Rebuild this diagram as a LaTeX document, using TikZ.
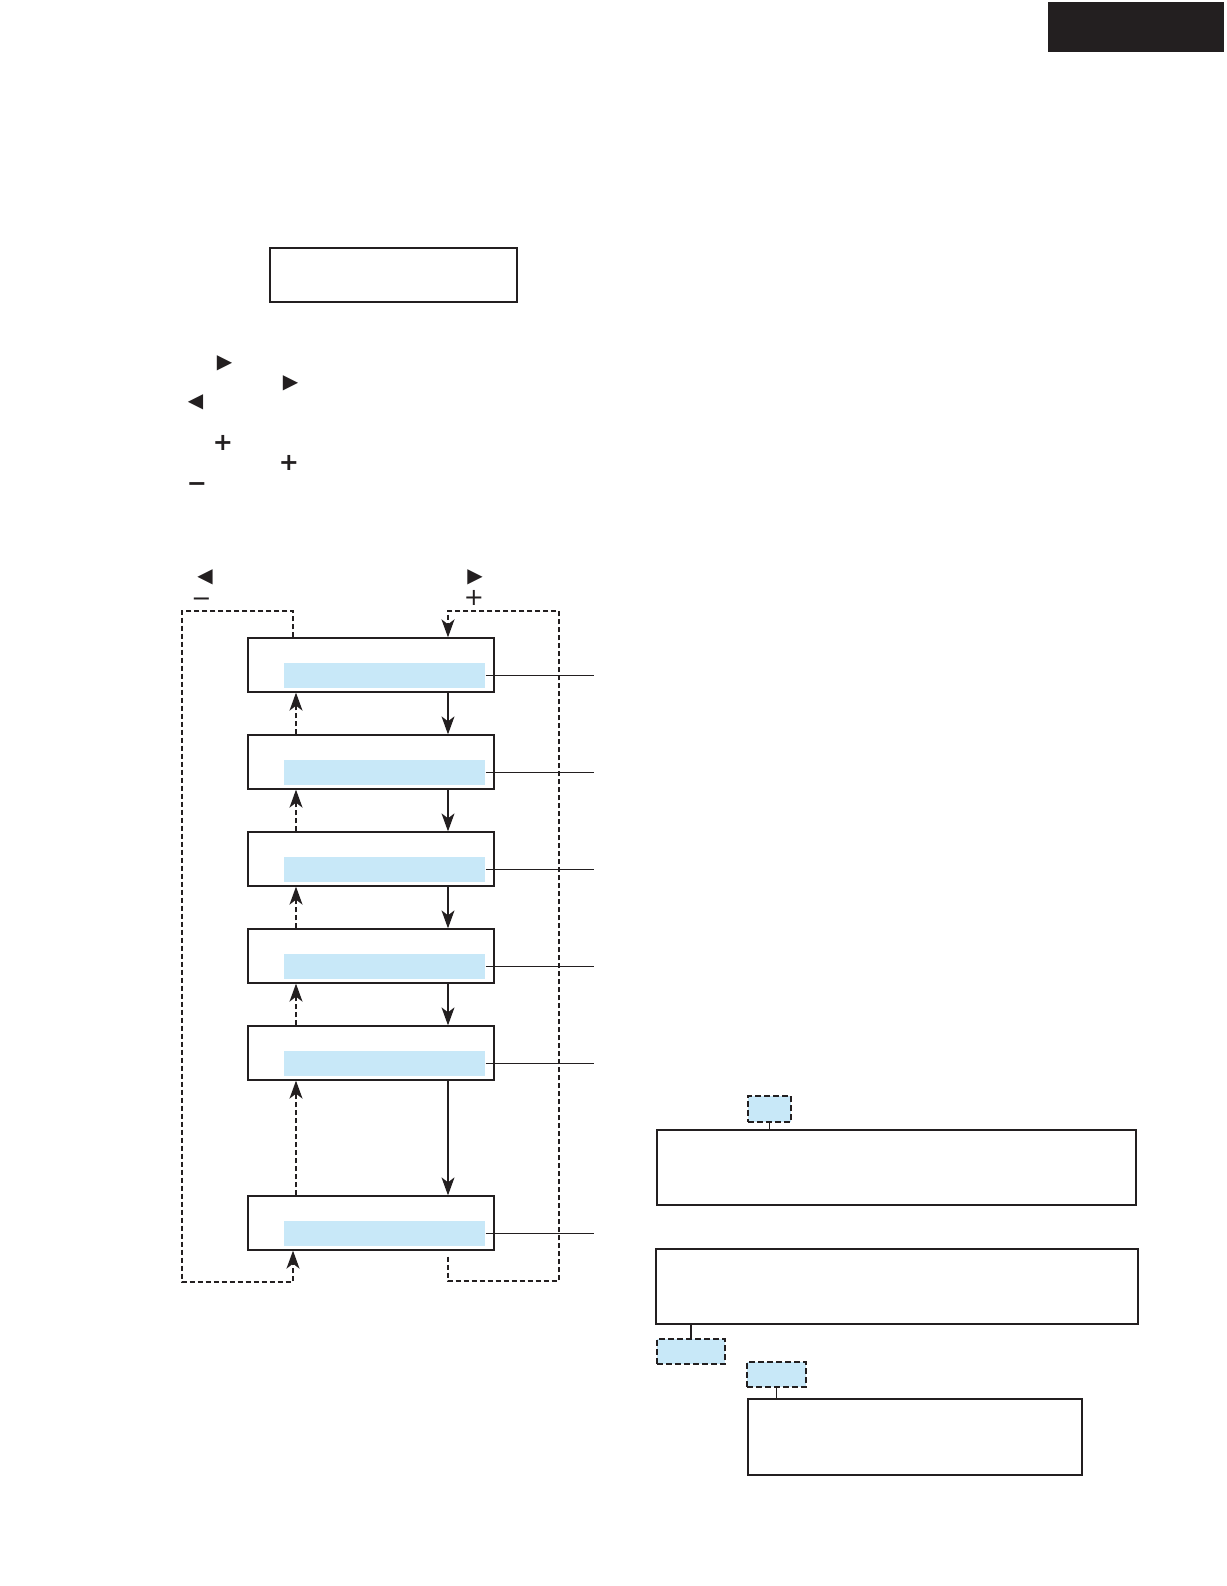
\documentclass[tikz,border=0pt]{standalone}
\usepackage{fontspec}
\newfontfamily\symfont{DejaVu Sans}
\usetikzlibrary{arrows.meta}

\definecolor{lcdblue}{RGB}{200,232,248}
\definecolor{ink}{RGB}{35,31,32}

\begin{document}
\begin{tikzpicture}[x=1pt, y=-1pt, line width=1.3pt, draw=ink,
    disp/.style={draw=ink, rectangle, minimum width=246pt, minimum height=54pt, inner sep=0pt},
    bar/.style={fill=lcdblue, rectangle, minimum width=201pt, minimum height=25pt, inner sep=0pt},
    tag/.style={fill=lcdblue, draw=ink, dashed, dash pattern=on 6pt off 3pt, rectangle, inner sep=0pt},
    info/.style={draw=ink, rectangle, inner sep=0pt},
    key/.style={inner sep=0pt, text=ink, font=\symfont\fontsize{20}{20}\selectfont},
    sign/.style={inner sep=0pt, text=ink, font=\symfont\bfseries\fontsize{24}{24}\selectfont},
    n/.style={-{Stealth[length=18pt, width=13pt, inset=5pt]}, line width=1.3pt},
    d/.style={-{Stealth[length=18pt, width=13pt, inset=5pt]}, line width=1.3pt, dash pattern=on 5pt off 3pt}]
    \useasboundingbox (0,0) rectangle (1226,1586);
    % header
    \node[fill=ink, minimum width=176pt, minimum height=50pt, inner sep=0pt] (tab) at (1136,27) {};
    \node[info, minimum width=247pt, minimum height=54pt] (top) at (393.5,275) {};
    % keys
    \node[key] (r1) at (224.5,363) {▶};
    \node[key] (r2) at (290.5,383) {▶};
    \node[key] (l1) at (195.5,402) {◀};
    \node[sign] (p1) at (223,442.5) {+};
    \node[sign] (p2) at (289,463) {+};
    \node[sign] (m1) at (197,487) {−};
    \node[key] (l2) at (205,577) {◀};
    \node[sign, font=\symfont\fontsize{24}{24}\selectfont] (m2) at (201.5,602) {−};
    \node[key] (r3) at (475,577) {▶};
    \node[sign, font=\symfont\fontsize{24}{24}\selectfont] (p3) at (474,598) {+};
    % displays
    \node[disp] (s1) at (371,665) {};
    \node[disp] (s2) at (371,762) {};
    \node[disp] (s3) at (371,859) {};
    \node[disp] (s4) at (371,956) {};
    \node[disp] (s5) at (371,1053) {};
    \node[disp] (s6) at (371,1223) {};
    \node[bar] (b1) at (384.5,675.5) {};
    \node[bar] (b2) at (384.5,772.5) {};
    \node[bar] (b3) at (384.5,869.5) {};
    \node[bar] (b4) at (384.5,966.5) {};
    \node[bar] (b5) at (384.5,1063.5) {};
    \node[bar] (b6) at (384.5,1233.5) {};
    % helper columns
    \coordinate (ux) at (296,0);
    \coordinate (dx) at (448,0);
    \coordinate (lx) at (293,0);
    \coordinate (ex) at (594,0);
    \coordinate (ltop) at (182,611);
    \coordinate (lbot) at (182,1282);
    \coordinate (rtop) at (559,611);
    \coordinate (rbot) at (559,1281);
    % steps
    \draw[d] (s2.north -| ux) -- (s1.south -| ux);
    \draw[d] (s3.north -| ux) -- (s2.south -| ux);
    \draw[d] (s4.north -| ux) -- (s3.south -| ux);
    \draw[d] (s5.north -| ux) -- (s4.south -| ux);
    \draw[d] (s6.north -| ux) -- (s5.south -| ux);
    \draw[n] (s1.south -| dx) -- (s2.north -| dx);
    \draw[n] (s2.south -| dx) -- (s3.north -| dx);
    \draw[n] (s3.south -| dx) -- (s4.north -| dx);
    \draw[n] (s4.south -| dx) -- (s5.north -| dx);
    \draw[n] (s5.south -| dx) -- (s6.north -| dx);
    % wrap around
    \draw[d, line width=1.2pt] (s1.north -| lx) |- (ltop) -- (lbot) -| (s6.south -| lx);
    \draw[d, line width=1.8pt, shorten <=6pt] (s6.south -| dx) |- (rbot) -- (rtop) -| (s1.north -| dx);
    % leaders
    \draw (b1.east) -- (b1.east -| ex);
    \draw (b2.east) -- (b2.east -| ex);
    \draw (b3.east) -- (b3.east -| ex);
    \draw (b4.east) -- (b4.east -| ex);
    \draw (b5.east) -- (b5.east -| ex);
    \draw (b6.east) -- (b6.east -| ex);
    % notes
    \node[info, minimum width=479pt, minimum height=75pt] (na) at (896.5,1167.5) {};
    \node[info, minimum width=482pt, minimum height=75pt] (nb) at (897,1286.5) {};
    \node[info, minimum width=334pt, minimum height=76pt] (ne) at (915,1437) {};
    \node[tag, minimum width=43pt, minimum height=26pt] (ta) at (769.5,1109) {};
    \node[tag, minimum width=68pt, minimum height=25pt] (tc) at (691,1351.5) {};
    \node[tag, minimum width=59pt, minimum height=25pt] (td) at (776.5,1374.5) {};
    \draw (ta.south) -- (ta.south |- na.north);
    \draw (tc.north) -- (tc.north |- nb.south);
    \draw (td.south) -- (td.south |- ne.north);
\end{tikzpicture}
\end{document}
